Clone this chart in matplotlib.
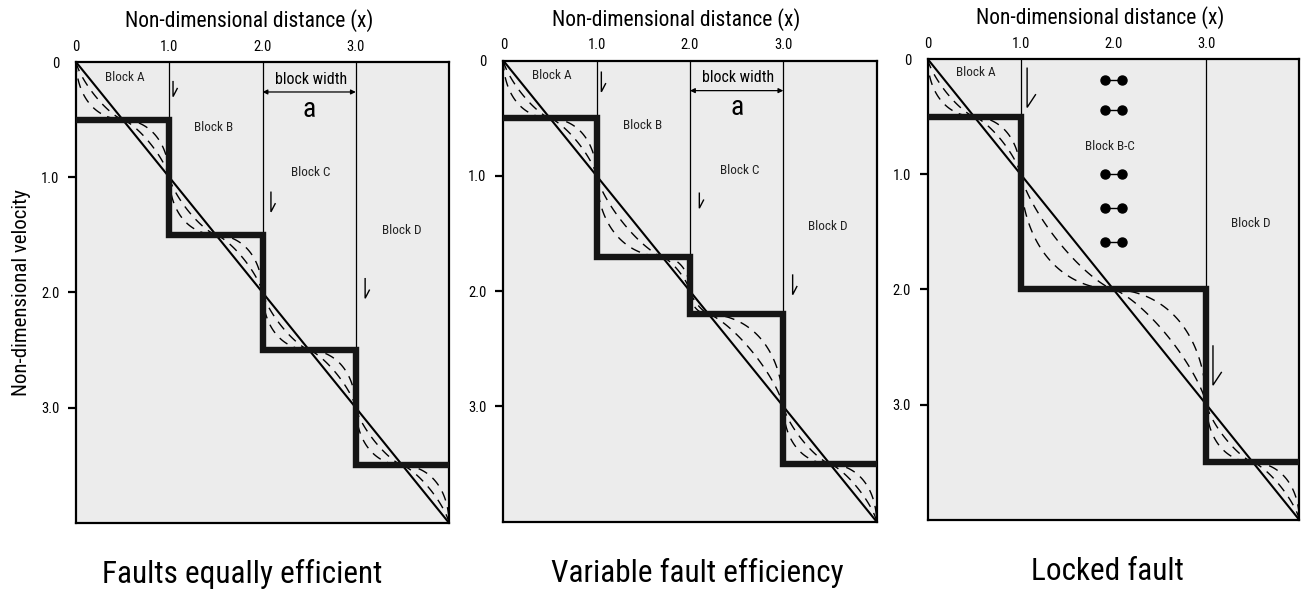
import numpy as np
import matplotlib
matplotlib.use("Agg")
import matplotlib.pyplot as plt

plt.rcParams['font.family'] = ['Roboto Condensed', 'Liberation Sans Narrow', 'Liberation Sans']

# block edges (non-dimensional distance) and block velocities for each panel
edges_1 = [0.0, 1.0, 2.0, 3.0, 4.0]
levels_1 = [0.5, 1.5, 2.5, 3.5]
edges_2 = [0.0, 1.0, 2.0, 3.0, 4.0]
levels_2 = [0.5, 1.7, 2.2, 3.5]
edges_3 = [0.0, 1.0, 3.0, 4.0]
levels_3 = [0.5, 2.0, 3.5]

titles = ["Faults equally efficient", "Variable fault efficiency", "Locked fault"]
title_x = [0.445, 0.52, 0.483]

block_labels_1 = [("Block A", 0.52, 0.13), ("Block B", 1.48, 0.57),
                  ("Block C", 2.52, 0.96), ("Block D", 3.49, 1.46)]
block_labels_2 = [("Block A", 0.52, 0.13), ("Block B", 1.49, 0.56),
                  ("Block C", 2.53, 0.95), ("Block D", 3.48, 1.44)]
block_labels_3 = [("Block A", 0.52, 0.12), ("Block B-C", 1.96, 0.76),
                  ("Block D", 3.48, 1.43)]

# slip arrows: x, top, bottom
arrows_1 = [(1.04, 0.17, 0.30), (2.09, 1.13, 1.30), (3.10, 1.88, 2.05)]
arrows_2 = [(1.05, 0.10, 0.27), (2.10, 1.15, 1.28), (3.10, 1.86, 2.03)]
arrows_3 = [(1.07, 0.08, 0.42), (3.07, 2.49, 2.83)]

lock_y = [0.18, 0.44, 1.0, 1.29, 1.59]

# curve shape exponents for relaxation profiles
shape_q = [0.55, 0.78]

GRAY = '#ececec'


def relax_curves(ax, edges, levels):
    th = np.linspace(0, np.pi / 2, 80)
    for a, b, L in zip(edges[:-1], edges[1:], levels):
        tris = []
        if L > a:
            tris.append(((a, L), (a, a), (L, L)))
        if L < b:
            tris.append(((b, L), (L, L), (b, b)))
        for C, P, Q in tris:
            C, P, Q = np.array(C), np.array(P), np.array(Q)
            for q in shape_q:
                u = np.cos(th) ** (2 / q)
                v = np.sin(th) ** (2 / q)
                pts = C + np.outer(u, P - C) + np.outer(v, Q - C)
                ax.plot(pts[:, 0], pts[:, 1], color='k', lw=1.0,
                        ls=(0, (7, 5)), zorder=2)


def half_arrow(ax, x, y0, y1, big=False):
    dx, dy = (0.09, 0.11) if big else (0.045, 0.07)
    ax.plot([x, x, x + dx], [y0, y1, y1 - dy], color='k', lw=1.0,
            solid_joinstyle='miter', zorder=3)


def panel(ax, edges, levels, labels, arrows, title, tx, ylab=False):
    ax.set_facecolor(GRAY)
    ax.set_xlim(0, 4)
    ax.set_ylim(4, 0)
    for s in ax.spines.values():
        s.set_linewidth(1.6)
    # fault lines down to the top of each offset
    for a, L in zip(edges[1:-1], levels[:-1]):
        ax.plot([a, a], [0, L], color='k', lw=0.9, zorder=2)
    ax.plot([0, 4], [0, 4], color='k', lw=1.5, zorder=3)
    relax_curves(ax, edges, levels)
    ax.plot(edges, list(levels) + [levels[-1]], drawstyle='steps-post',
            color='#151515', lw=4.6, solid_joinstyle='miter',
            solid_capstyle='butt', zorder=4)
    for t, x, y in labels:
        ax.text(x, y, t, ha='center', va='center', fontsize=9.5, color='#222222')
    for x, y0, y1 in arrows:
        half_arrow(ax, x, y0, y1, big=(y1 - y0) > 0.25)

    ax.xaxis.tick_top()
    ax.set_xticks([0, 1, 2, 3])
    ax.set_xticklabels(['0', '1.0', '2.0', '3.0'])
    ax.tick_params(axis='x', length=0, pad=6, labelsize=10.5)
    ax.set_yticks([0, 1, 2, 3])
    ax.set_yticklabels(['0', '1.0', '2.0', '3.0'])
    ax.tick_params(axis='y', length=6, width=1.6, pad=6, labelsize=10.5)
    ax.yaxis.get_major_ticks()[0].tick1line.set_visible(False)

    ax.text(0.464, 1.09, 'Non-dimensional distance (x)', transform=ax.transAxes,
            ha='center', va='center', fontsize=15.5)
    ax.text(tx, -0.13, title, transform=ax.transAxes, ha='center',
            va='baseline', fontsize=22.5)
    if ylab:
        ax.set_ylabel('Non-dimensional velocity', fontsize=15)
        ax.yaxis.set_label_coords(-0.122, 0.5)


fig = plt.figure(figsize=(13.02, 5.89), dpi=100)
ax1 = fig.add_axes([0.0584, 0.1121, 0.2865, 0.7826])
ax2 = fig.add_axes([0.3866, 0.1143, 0.2867, 0.7827])
ax3 = fig.add_axes([0.7125, 0.1172, 0.2855, 0.7826])

panel(ax1, edges_1, levels_1, block_labels_1, arrows_1, titles[0], title_x[0], ylab=True)
panel(ax2, edges_2, levels_2, block_labels_2, arrows_2, titles[1], title_x[1])
panel(ax3, edges_3, levels_3, block_labels_3, arrows_3, titles[2], title_x[2])

# block width marker
for ax in (ax1, ax2):
    ax.annotate('', xy=(2.0, 0.26), xytext=(3.0, 0.26),
                arrowprops=dict(arrowstyle='<|-|>', color='k', lw=0.9,
                                mutation_scale=7, shrinkA=0, shrinkB=0))
    ax.text(2.52, 0.15, 'block width', ha='center', va='center', fontsize=11.5)
    ax.text(2.5, 0.41, 'a', ha='center', va='center', fontsize=20)

# locked fault ties
for y in lock_y:
    ax3.plot([1.91, 2.09], [y, y], color='k', lw=1.0, marker='o', ms=6.5,
             zorder=5)

fig.savefig('out.png', dpi=100)
